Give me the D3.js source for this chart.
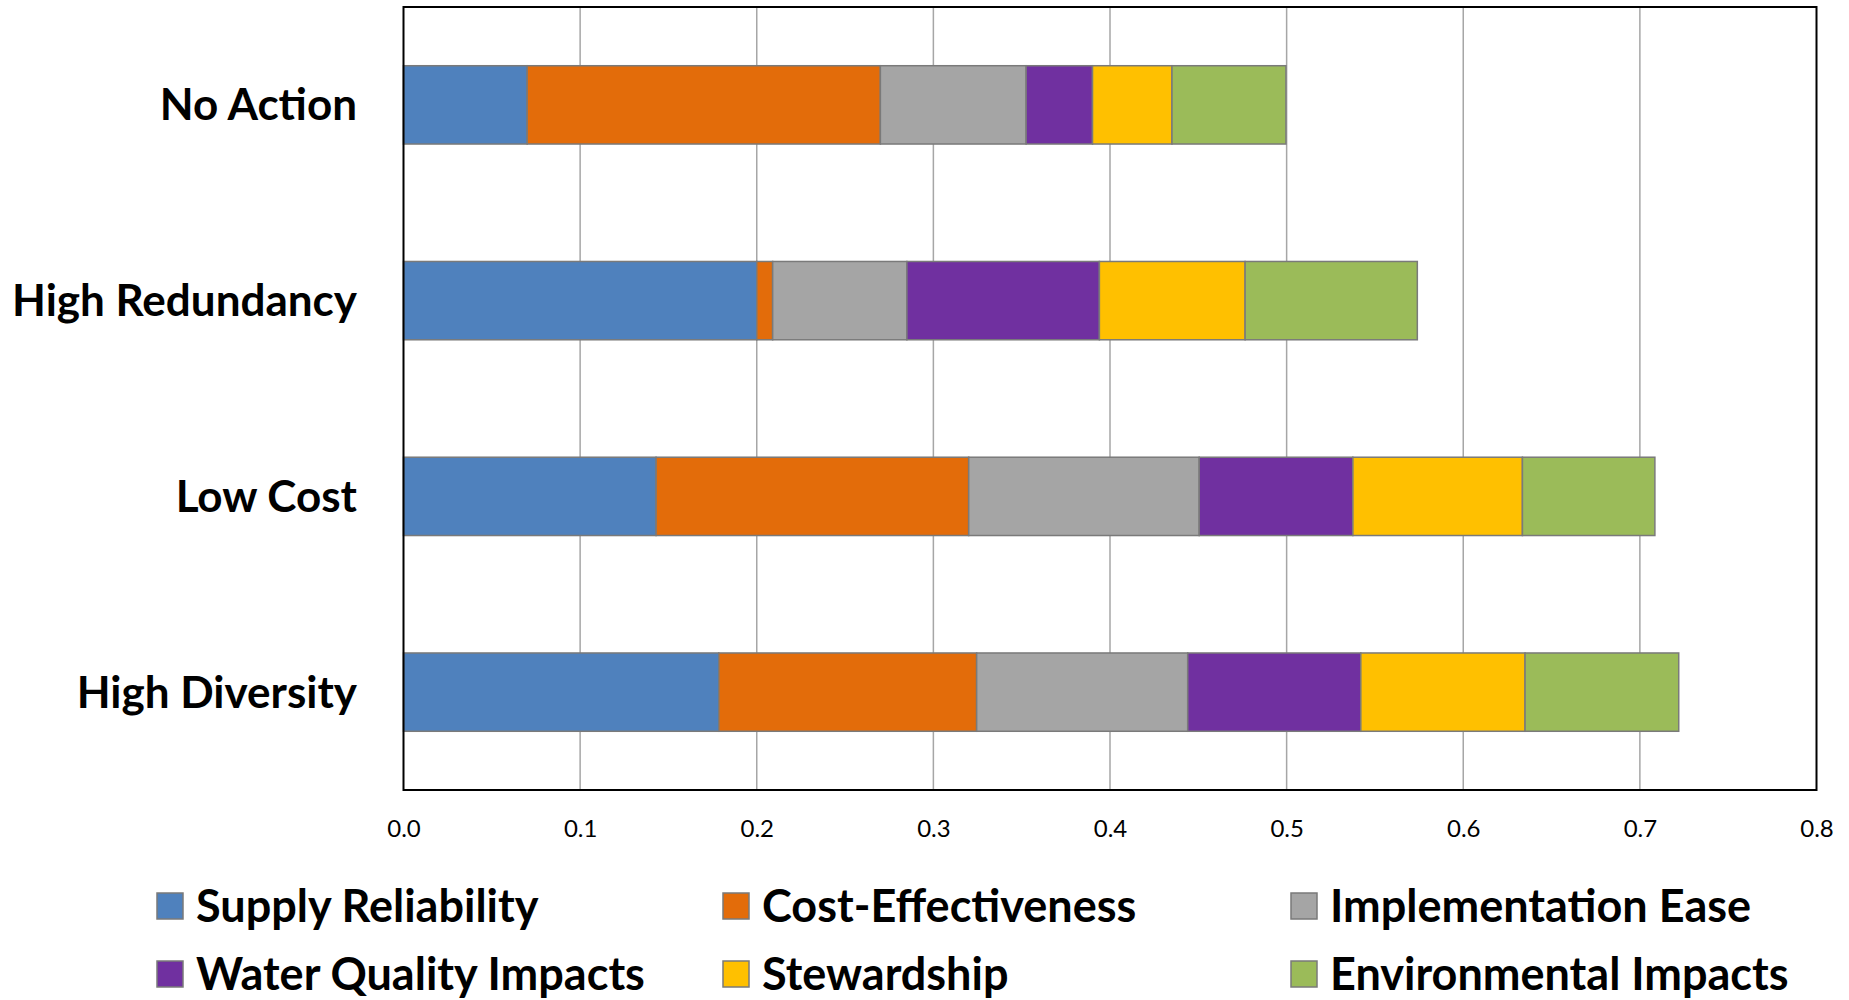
<!DOCTYPE html>
<html>
<head>
<meta charset="utf-8">
<script src="https://cdn.jsdelivr.net/npm/d3@7"></script>
<style>
  html, body { margin: 0; padding: 0; background: #fff; }
  svg { display: block; }
</style>
</head>
<body>
<svg id="chart" width="1849" height="1000"></svg>
<script>
const categories = ["No Action", "High Redundancy", "Low Cost", "High Diversity"];
const seriesNames = ["Supply Reliability", "Cost-Effectiveness", "Implementation Ease",
                     "Water Quality Impacts", "Stewardship", "Environmental Impacts"];
const supplyReliability   = [0.070, 0.200, 0.143, 0.1785];
const costEffectiveness   = [0.200, 0.009, 0.177, 0.146];
const implementationEase  = [0.0825, 0.076, 0.1305, 0.1195];
const waterQualityImpacts = [0.0376, 0.109, 0.087, 0.098];
const stewardship         = [0.045, 0.0825, 0.096, 0.093];
const environmentalImpacts= [0.0645, 0.0975, 0.075, 0.087];
const xTicks = [0, 0.1, 0.2, 0.3, 0.4, 0.5, 0.6, 0.7, 0.8];
const colors = ["#4f81bd", "#e36c0a", "#a5a5a5", "#7030a0", "#ffc000", "#9bbb59"];

const seriesValues = [supplyReliability, costEffectiveness, implementationEase,
                      waterQualityImpacts, stewardship, environmentalImpacts];
const table = categories.map((c, i) => {
  const row = { category: c };
  seriesNames.forEach((s, j) => row[s] = seriesValues[j][i]);
  return row;
});
const stacked = d3.stack().keys(seriesNames)(table);

const svg = d3.select("#chart");
const pL = 403.5, pR = 1816.5, pT = 7, pB = 790;
const x = d3.scaleLinear().domain([0, 0.8]).range([pL, pR]);
const y = d3.scaleBand().domain(categories).range([pT, pB]).paddingInner(0.6).paddingOuter(0.3);

// gridlines
svg.append("g").selectAll("line").data(xTicks.slice(1, -1)).join("line")
  .attr("x1", d => x(d)).attr("x2", d => x(d))
  .attr("y1", pT).attr("y2", pB)
  .attr("stroke", "#a6a6a6").attr("stroke-width", 1.5);

// bars
svg.append("g").selectAll("g").data(stacked).join("g")
  .attr("fill", (d, i) => colors[i])
  .selectAll("rect").data(d => d).join("rect")
  .attr("x", d => x(d[0]))
  .attr("width", d => x(d[1]) - x(d[0]))
  .attr("y", d => y(d.data.category))
  .attr("height", y.bandwidth())
  .attr("stroke", "#7a7a7a").attr("stroke-width", 1.5);

// plot border
svg.append("rect").attr("x", pL).attr("y", pT)
  .attr("width", pR - pL).attr("height", pB - pT)
  .attr("fill", "none").attr("stroke", "#000").attr("stroke-width", 2);

// x axis
const xAxis = d3.axisBottom(x).tickValues(xTicks).tickFormat(d3.format(".1f")).tickSize(0).tickPadding(0);
const gx = svg.append("g").attr("transform", `translate(0, ${pB})`).call(xAxis);
gx.select(".domain").remove();
gx.selectAll("text")
  .attr("y", 39).attr("dy", "0.35em")
  .style("font-family", "Lato, 'Open Sans', sans-serif")
  .style("font-size", "24px").attr("fill", "#000");

// y axis
const yAxis = d3.axisLeft(y).tickSize(0).tickPadding(0);
const gy = svg.append("g").attr("transform", `translate(357, 0)`).call(yAxis);
gy.select(".domain").remove();
gy.selectAll("text")
  .attr("dy", "0.35em")
  .style("font-family", "Lato, 'Open Sans', sans-serif")
  .style("font-weight", "bold")
  .style("font-size", "44px").attr("fill", "#000");

// legend
const legendCols = [157, 723, 1291];
const legendRows = [906, 974];
const legend = svg.append("g").selectAll("g").data(seriesNames).join("g")
  .attr("transform", (d, i) => `translate(${legendCols[i % 3]}, ${legendRows[Math.floor(i / 3)]})`);
legend.append("rect")
  .attr("x", 0).attr("y", -13).attr("width", 26).attr("height", 26)
  .attr("fill", (d, i) => colors[i]).attr("stroke", "#7a7a7a").attr("stroke-width", 1.5);
legend.append("text")
  .attr("x", 39).attr("dy", "0.35em")
  .style("font-family", "Lato, 'Open Sans', sans-serif")
  .style("font-weight", "bold")
  .style("font-size", "45px").attr("fill", "#000")
  .text(d => d);
</script>
</body>
</html>
